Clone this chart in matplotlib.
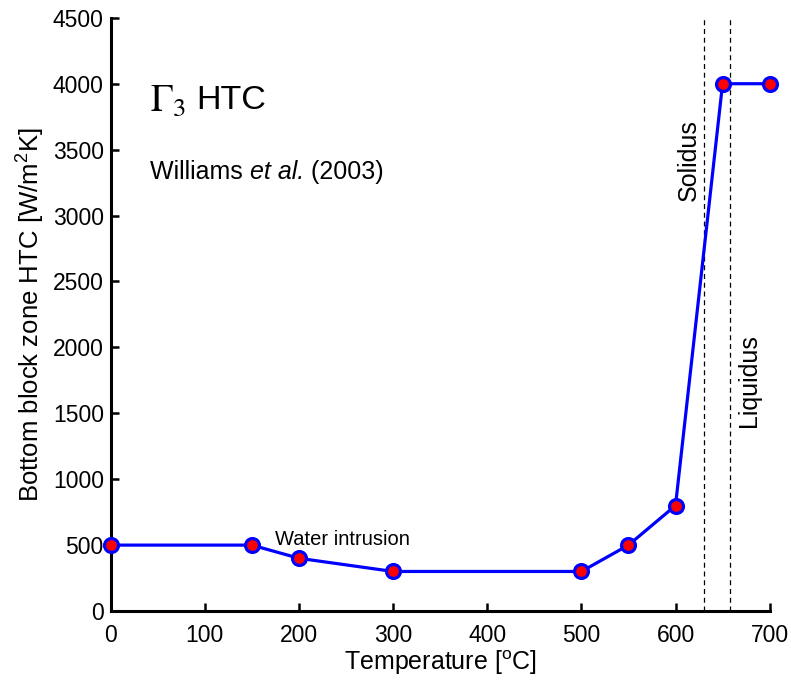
import matplotlib.pyplot as plt

temperature = [0, 150, 200, 300, 500, 550, 600, 650, 700]
htc = [500, 500, 400, 300, 300, 500, 800, 4000, 4000]
solidus = 630
liquidus = 658
x_ticks = [0, 100, 200, 300, 400, 500, 600, 700]
y_ticks = [0, 500, 1000, 1500, 2000, 2500, 3000, 3500, 4000, 4500]

plt.rcParams['font.family'] = ['Liberation Sans', 'DejaVu Sans']
plt.rcParams['mathtext.fontset'] = 'custom'
plt.rcParams['mathtext.rm'] = 'Liberation Sans'
plt.rcParams['mathtext.it'] = 'Liberation Sans:italic'

fig = plt.figure(figsize=(7.91, 6.85), dpi=100)
ax = fig.add_axes([0.140, 0.108, 0.833, 0.866])

ax.axvline(solidus, color='black', linestyle='--', linewidth=0.9, dashes=(4, 3))
ax.axvline(liquidus, color='black', linestyle='--', linewidth=0.9, dashes=(4, 3))

ax.plot(temperature, htc, color='blue', linewidth=2.3, marker='o',
        markersize=10, markerfacecolor='red', markeredgecolor='blue',
        markeredgewidth=2.3, clip_on=False, zorder=5)

ax.set_xlim(0, 700)
ax.set_ylim(0, 4500)
ax.set_xticks(x_ticks)
ax.set_yticks(y_ticks)
ax.tick_params(direction='in', labelsize=16.5, width=1.8, length=6)
ax.tick_params(axis='x', pad=9)
ax.tick_params(axis='y', pad=5)
for side in ['top', 'right']:
    ax.spines[side].set_visible(False)
for side in ['left', 'bottom']:
    ax.spines[side].set_linewidth(2.2)

ax.set_xlabel('Temperature [$\\mathregular{^oC}$]', fontsize=18, labelpad=1)
ax.set_ylabel('Bottom block zone HTC [W/m$\\mathregular{^2}$K]', fontsize=18.5, labelpad=4)

ax.text(42, 3870, r'$\Gamma_3$', fontsize=27, va='center', ha='left',
        math_fontfamily='stix')
ax.text(91, 3870, 'HTC', fontsize=24.5, va='center', ha='left')

# citation line, pieces chained so the italic part sits right after the name
t1 = ax.text(42, 3240, 'Williams ', fontsize=18, va='bottom', ha='left')
t2 = ax.annotate('et al.', xy=(1, 0), xycoords=t1, fontsize=18,
                 style='italic', va='bottom', ha='left')
ax.annotate(' (2003)', xy=(1, 0), xycoords=t2, fontsize=18,
            va='bottom', ha='left')

ax.text(614, 3420, 'Solidus', fontsize=18, rotation=90, va='center', ha='center')
ax.text(678, 1750, 'Liquidus', fontsize=18, rotation=90, va='center', ha='center')
ax.text(246, 545, 'Water intrusion', fontsize=14.5, va='center', ha='center')

fig.savefig('out.png', dpi=100)
